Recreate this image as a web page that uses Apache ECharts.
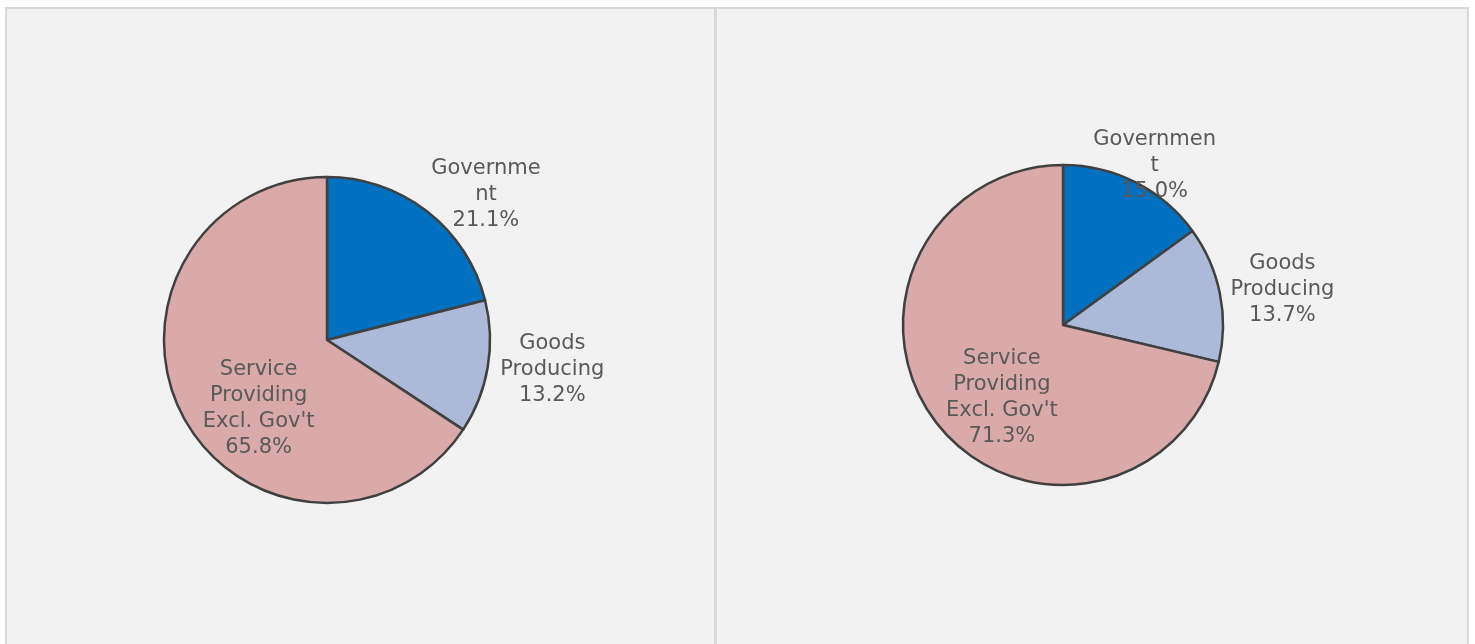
<!DOCTYPE html>
<html>
<head>
<meta charset="utf-8">
<script src="https://cdn.jsdelivr.net/npm/echarts@6/dist/echarts.min.js"></script>
<style>
  html, body { margin: 0; padding: 0; background: #ffffff; width: 1475px; height: 644px; overflow: hidden; }
  #frame { position: absolute; left: 5px; top: 7px; width: 1460px; height: 700px; border: 2px solid #d9d9d9; background: #f2f2f2; }
  #left { position: absolute; left: 0; top: 0; width: 707px; height: 680px; }
  #divider { position: absolute; left: 707px; top: 0; width: 3px; height: 700px; background: #d9d9d9; }
  #right { position: absolute; left: 710px; top: 0; width: 748px; height: 680px; }
</style>
</head>
<body>
<div id="frame">
  <div id="left"></div>
  <div id="divider"></div>
  <div id="right"></div>
</div>
<script>
// ---- data ----
const categories = ['Government', 'Goods Producing', "Service Providing Excl. Gov't"];
const leftLabels = ['Governme\nnt', 'Goods\nProducing', "Service\nProviding\nExcl. Gov't"];
const rightLabels = ['Governmen\nt', 'Goods\nProducing', "Service\nProviding\nExcl. Gov't"];
const leftValues = [21.1, 13.2, 65.8];
const rightValues = [15.0, 13.7, 71.3];

// ---- style ----
const colors = ['#0070C0', '#ADB9D9', '#DAA9A9'];
const leftLabelShift = [[107, -79], [142, 15], [6, 28.5]];
const rightLabelShift = [[54, -85], [138, -19], [4, 21]];

function makeOption(values, labels, center, radius, shifts) {
  return {
    animation: false,
    series: [{
      type: 'pie',
      center: center,
      radius: radius,
      startAngle: 90,
      clockwise: true,
      silent: true,
      data: categories.map((c, i) => ({
        name: c,
        value: values[i],
        itemStyle: { color: colors[i] }
      })),
      itemStyle: { borderColor: '#404040', borderWidth: 2.5 },
      label: {
        show: true,
        position: 'inside',
        color: '#595959',
        fontFamily: 'DejaVu Sans',
        fontSize: 21,
        lineHeight: 26,
        align: 'center',
        textBorderWidth: 0,
        formatter: p => labels[p.dataIndex] + '\n' + p.value.toFixed(1) + '%'
      },
      labelLine: { show: false },
      labelLayout: p => ({ dx: shifts[p.dataIndex][0], dy: shifts[p.dataIndex][1] })
    }]
  };
}

const leftChart = echarts.init(document.getElementById('left'));
leftChart.setOption(makeOption(leftValues, leftLabels, [320, 331], 163, leftLabelShift));
const rightChart = echarts.init(document.getElementById('right'));
rightChart.setOption(makeOption(rightValues, rightLabels, [346, 316], 160, rightLabelShift));
</script>
</body>
</html>
